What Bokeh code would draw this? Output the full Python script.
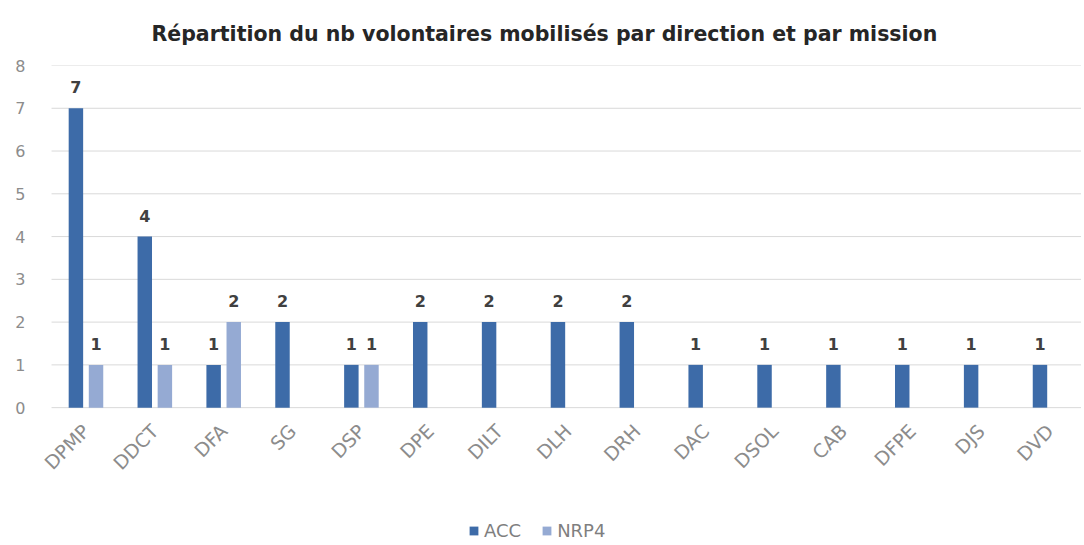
import math
from bokeh.plotting import figure
from bokeh.models import ColumnDataSource, Legend, LegendItem, FixedTicker, Range1d
from bokeh.transform import dodge
from bokeh.core.properties import value
from bokeh.embed import file_html
from bokeh.resources import INLINE

categories = ["DPMP", "DDCT", "DFA", "SG", "DSP", "DPE", "DILT", "DLH", "DRH",
              "DAC", "DSOL", "CAB", "DFPE", "DJS", "DVD"]
acc = [7, 4, 1, 2, 1, 2, 2, 2, 2, 1, 1, 1, 1, 1, 1]
nrp4 = [1, 1, 2, 0, 1, 0, 0, 0, 0, 0, 0, 0, 0, 0, 0]
y_ticks = [0, 1, 2, 3, 4, 5, 6, 7, 8]

title_txt = "Répartition du nb volontaires mobilisés par direction et par mission"
ACC_COLOR = "#3D6BA8"
NRP_COLOR = "#95AAD3"
GRID_COLOR = "#D9D9D9"
FONT = "DejaVu Sans"

idx = list(range(len(categories)))
acc_src = ColumnDataSource(dict(x=[i for i, v in zip(idx, acc) if v > 0],
                                val=[v for v in acc if v > 0],
                                lab=[str(v) for v in acc if v > 0]))
nrp_src = ColumnDataSource(dict(x=[i for i, v in zip(idx, nrp4) if v > 0],
                                val=[v for v in nrp4 if v > 0],
                                lab=[str(v) for v in nrp4 if v > 0]))

# frame extends below zero and left of first category to host rotated labels and legend
p = figure(x_range=Range1d(-0.791, 14.457), y_range=Range1d(-3.2, 8),
           frame_width=1050, frame_height=479, output_backend="svg", toolbar_location=None,
           min_border_left=31, min_border_right=0, min_border_top=10, min_border_bottom=0)

p.title.text = title_txt
p.title.align = "left"
p.title.text_font = FONT
p.title.text_font_size = "20.5px"
p.title.text_font_style = "bold"
p.title.text_color = "#262626"
p.title.offset = 120
p.title.standoff = 39

# horizontal gridlines spanning the category area only
grid_src = ColumnDataSource(dict(y=y_ticks, x0=[-0.5] * len(y_ticks),
                                 x1=[len(categories) - 0.5] * len(y_ticks)))
p.segment(x0="x0", x1="x1", y0="y", y1="y", source=grid_src,
          line_color=GRID_COLOR, line_width=1)

off = 0.146
r1 = p.vbar(x=dodge("x", -off), top="val", width=0.21, source=acc_src,
            color=ACC_COLOR, line_color=None)
r2 = p.vbar(x=dodge("x", off), top="val", width=0.21, source=nrp_src,
            color=NRP_COLOR, line_color=None)

for src, o in ((acc_src, -off), (nrp_src, off)):
    p.text(x=dodge("x", o), y="val", text="lab", source=src,
           text_align="center", text_baseline="bottom", y_offset=-15,
           text_font=value(FONT), text_font_size="16px", text_font_style="bold",
           text_color="#404040")

p.outline_line_color = None
p.background_fill_color = "white"
p.border_fill_color = "white"
p.xgrid.grid_line_color = None
p.ygrid.grid_line_color = None

p.yaxis.ticker = FixedTicker(ticks=y_ticks)
p.yaxis.axis_line_color = None
p.yaxis.major_tick_line_color = None
p.yaxis.minor_tick_line_color = None
p.yaxis.major_label_text_font = FONT
p.yaxis.major_label_text_font_size = "16px"
p.yaxis.major_label_text_color = "#8C8C8C"
p.yaxis.major_label_standoff = 0

p.xaxis.fixed_location = 0
p.xaxis.ticker = FixedTicker(ticks=idx)
p.xaxis.major_label_overrides = {i: c for i, c in zip(idx, categories)}
p.xaxis.axis_line_color = None
p.xaxis.major_tick_line_color = None
p.xaxis.minor_tick_line_color = None
p.xaxis.major_label_orientation = math.pi / 4
p.xaxis.major_label_text_font = FONT
p.xaxis.major_label_text_font_size = "19px"
p.xaxis.major_label_text_color = "#8C8C8C"
p.xaxis.major_label_standoff = 14

legend = Legend(items=[LegendItem(label="ACC", renderers=[r1]),
                       LegendItem(label="NRP4", renderers=[r2])],
                orientation="horizontal", location=(437, 3))
legend.label_text_font = FONT
legend.label_text_font_size = "18px"
legend.label_text_color = "#7F7F7F"
legend.glyph_width = 11
legend.glyph_height = 11
legend.spacing = 20
legend.label_standoff = 5
legend.border_line_color = None
legend.background_fill_alpha = 0
legend.margin = 0
legend.padding = 0
p.add_layout(legend)

open("out.html", "w").write(file_html(p, INLINE))
